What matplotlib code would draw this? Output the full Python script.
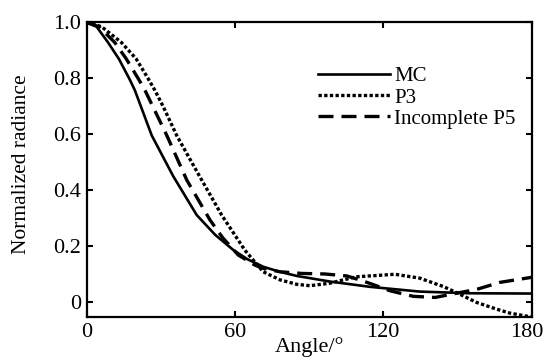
import numpy as np
import matplotlib
matplotlib.use("Agg")
import matplotlib.pyplot as plt
import matplotlib.transforms as mtransforms

plt.rcParams["font.family"] = ["Liberation Serif", "DejaVu Serif"]

# values
angle_mc = [0, 4, 8.6, 13, 17.4, 19.5, 26.3, 35, 44.5, 52, 59.3, 65, 71.4, 78,
            85, 98.4, 114.6, 134.8, 155, 180]
mc = [1.0, 0.985, 0.929, 0.87, 0.796, 0.757, 0.596, 0.45, 0.311, 0.24, 0.186,
      0.153, 0.126, 0.108, 0.093, 0.073, 0.054, 0.037, 0.031, 0.03]

angle_p3 = [0, 6, 14, 20, 24.8, 27.6, 30.9, 36.4, 45, 54.6, 64, 71.4, 78.2, 85,
            90.3, 98.4, 109, 114.6, 124.7, 134.8, 144.3, 149.7, 157.8, 165.9,
            171.2, 180]
p3 = [1.0, 0.985, 0.929, 0.87, 0.8, 0.757, 0.70, 0.596, 0.46, 0.311, 0.185,
      0.108, 0.079, 0.063, 0.058, 0.067, 0.09, 0.093, 0.099, 0.085, 0.055,
      0.033, -0.002, -0.026, -0.04, -0.054]

angle_p5 = [0, 5, 11.3, 16, 20.8, 23.6, 32.4, 40.5, 49.9, 55, 61.3, 68, 71.4,
            78.2, 87, 96.4, 105.2, 110, 115, 122.7, 132.1, 141, 148.3, 157.8,
            167.2, 180]
p5 = [1.0, 0.985, 0.929, 0.87, 0.8, 0.757, 0.596, 0.436, 0.293, 0.23, 0.168,
      0.132, 0.12, 0.108, 0.102, 0.1, 0.093, 0.08, 0.065, 0.04, 0.02, 0.016,
      0.029, 0.045, 0.07, 0.088]

xticks = [0, 60, 120, 180]
yticks = [0, 0.2, 0.4, 0.6, 0.8, 1.0]
ytick_labels = ["0", "0.2", "0.4", "0.6", "0.8", "1.0"]

fig = plt.figure(figsize=(5.46, 3.57), dpi=100)
ax = fig.add_axes([0.1588, 0.112, 0.8148, 0.825])

ax.plot(angle_mc, mc, "k-", lw=1.9, label="MC")
ax.plot(angle_p3, p3, "k", ls=(0, (1.0, 0.7)), lw=2.4, label="P3")
ax.plot(angle_p5, p5, "k", ls=(0, (4.5, 2.4)), lw=2.4, label="Incomplete P5")

ax.set_xlim(0, 180)
ax.set_ylim(-0.054, 1.0)
ax.set_xticks(xticks)
ax.set_yticks(yticks)
ax.set_yticklabels(ytick_labels)
ax.tick_params(direction="in", top=True, right=True, labelsize=16,
               length=4.5, width=1.5, pad=4)
for s in ax.spines.values():
    s.set_linewidth(1.6)

# nudge the last x tick label so it stays inside the image
last = ax.get_xticklabels()[-1]
last.set_transform(last.get_transform() +
                   mtransforms.ScaledTranslation(-5 / 100, 0, fig.dpi_scale_trans))

ax.set_xlabel("Angle/°", fontsize=16, labelpad=-3)
ax.set_ylabel("Normalized radiance", fontsize=15.5)
ax.yaxis.set_label_coords(-0.125, 0.52)

ax.legend(loc="upper left", bbox_to_anchor=(0.52, 0.85), frameon=False,
          fontsize=15, handlelength=3.45, handletextpad=0.2, labelspacing=0.08,
          borderpad=0, borderaxespad=0)

fig.savefig("out.png", dpi=100)
